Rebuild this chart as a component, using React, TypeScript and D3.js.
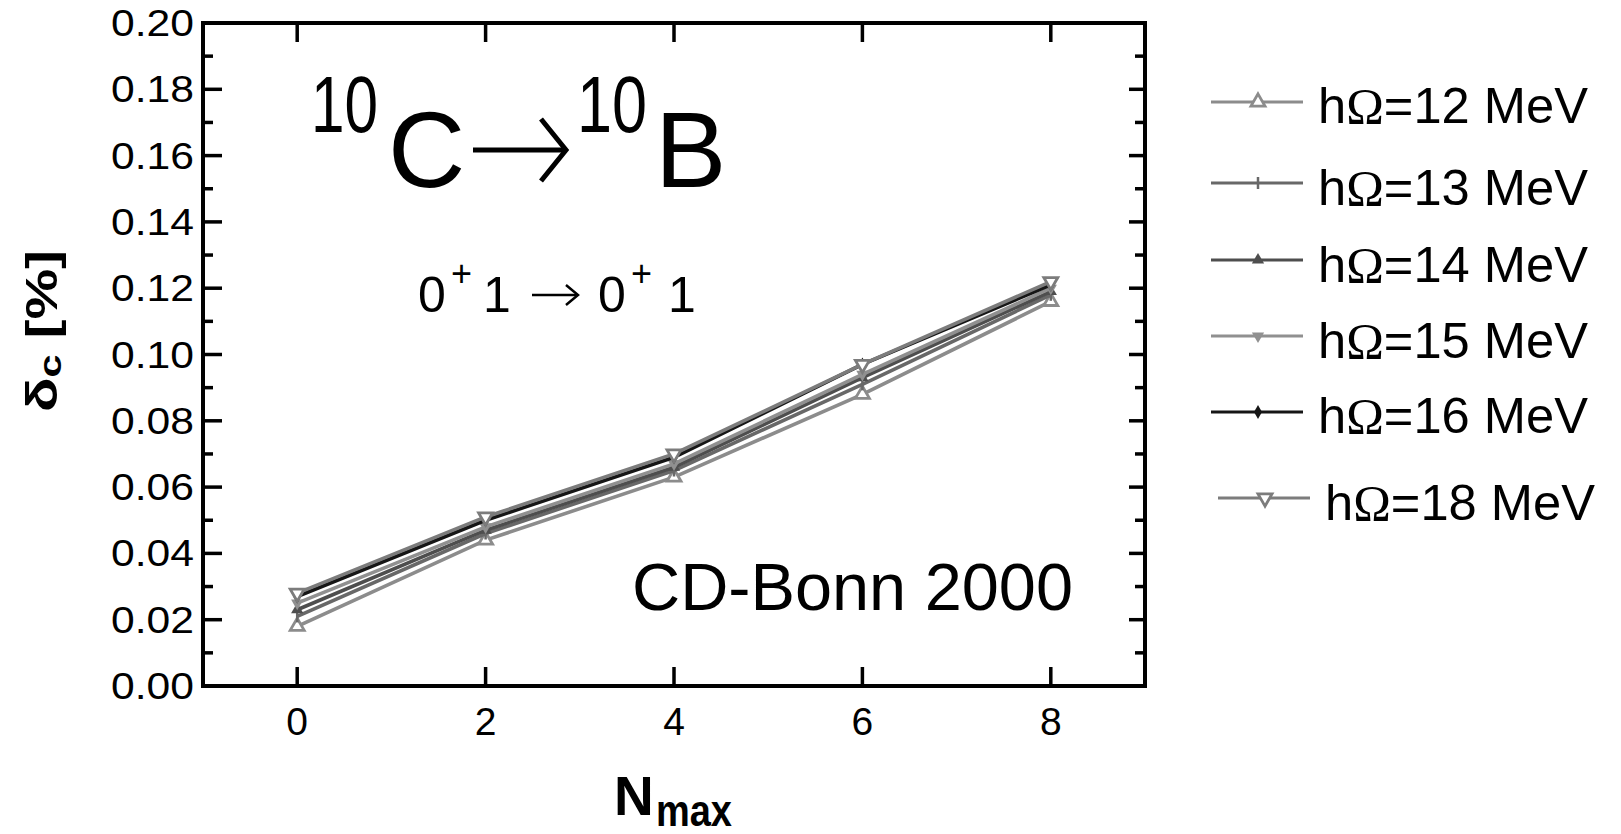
import React from 'react'
import * as d3 from 'd3'

const nmax = [0, 2, 4, 6, 8]
const series = ['12', '13', '14', '15', '16', '18']
const values = [
    [0.018, 0.044, 0.063, 0.088, 0.116],
    [0.021, 0.046, 0.065, 0.091, 0.118],
    [0.023, 0.047, 0.066, 0.093, 0.119],
    [0.025, 0.048, 0.067, 0.094, 0.120],
    [0.027, 0.050, 0.069, 0.097, 0.121],
    [0.028, 0.051, 0.070, 0.097, 0.122],
]
const colors = ['#8c8c8c', '#686868', '#4e4e4e', '#909090', '#161616', '#7c7c7c']
const markers = ['triUpOpen', 'tick', 'triUp', 'triDown', 'diamond', 'triDownOpen']
const yTicks = d3.range(0, 0.2001, 0.02)
const yMinor = d3.range(0.01, 0.2, 0.02)
const xTicks = [0, 2, 4, 6, 8]

const FONT = '"Liberation Sans", Arial, sans-serif'

const Marker = ({ kind, x, y, color }: { kind: string; x: number; y: number; color: string }) => {
    const tri = d3.symbol().type(d3.symbolTriangle)
    if (kind === 'triUpOpen' || kind === 'triDownOpen') {
        const rot = kind === 'triDownOpen' ? 180 : 0
        return <path d={tri.size(85)() || ''} transform={`translate(${x},${y}) rotate(${rot})`}
            fill="#fff" stroke={color} strokeWidth={2.8} />
    }
    if (kind === 'triUp' || kind === 'triDown') {
        const rot = kind === 'triDown' ? 180 : 0
        return <path d={tri.size(65)() || ''} transform={`translate(${x},${y}) rotate(${rot})`} fill={color} />
    }
    if (kind === 'diamond') {
        return <path d={d3.symbol().type(d3.symbolDiamond).size(55)() || ''} transform={`translate(${x},${y})`} fill={color} />
    }
    return <line x1={x} x2={x} y1={y - 6} y2={y + 6} stroke={color} strokeWidth={2.5} />
}

const App = () => {
    const left = 203, right = 1145, top = 23, bottom = 686
    const x = d3.scaleLinear().domain([-1, 9]).range([left, right])
    const y = d3.scaleLinear().domain([0, 0.2]).range([bottom, top])
    const line = d3.line<number>().x((d, i) => x(nmax[i])).y(d => y(d))

    const legendLineY = [102, 183, 260, 336, 412, 498]
    const legendTextY = [123, 205, 282, 358, 433, 520]

    return (
        <svg width={1621} height={834} style={{ position: 'absolute', left: 0, top: 0, background: '#fff' }}
            fontFamily={FONT}>
            {/* data */}
            {values.map((vals, si) => (
                <g key={`s${si}`}>
                    <path d={line(vals) || ''} fill="none" stroke={colors[si]} strokeWidth={3.6} />
                    {vals.map((v, i) => (
                        <Marker key={i} kind={markers[si]} x={x(nmax[i])} y={y(v)} color={colors[si]} />
                    ))}
                </g>
            ))}

            {/* frame */}
            <rect x={left} y={top} width={right - left} height={bottom - top} fill="none" stroke="#000" strokeWidth={4} />
            {yTicks.map(t => (
                <g key={`yt${t}`}>
                    <line x1={left} x2={left + 19} y1={y(t)} y2={y(t)} stroke="#000" strokeWidth={3.5} />
                    <line x1={right} x2={right - 16} y1={y(t)} y2={y(t)} stroke="#000" strokeWidth={3.5} />
                    <text x={194} y={y(t) + 13} textAnchor="end" fontSize={37} textLength={83}
                        lengthAdjust="spacingAndGlyphs">{t.toFixed(2)}</text>
                </g>
            ))}
            {yMinor.map(t => (
                <g key={`ym${t}`}>
                    <line x1={left} x2={left + 10} y1={y(t)} y2={y(t)} stroke="#000" strokeWidth={3.5} />
                    <line x1={right} x2={right - 10} y1={y(t)} y2={y(t)} stroke="#000" strokeWidth={3.5} />
                </g>
            ))}
            {xTicks.map(t => (
                <g key={`xt${t}`}>
                    <line x1={x(t)} x2={x(t)} y1={bottom} y2={bottom - 19} stroke="#000" strokeWidth={3.5} />
                    <line x1={x(t)} x2={x(t)} y1={top} y2={top + 19} stroke="#000" strokeWidth={3.5} />
                    <text x={x(t)} y={735} textAnchor="middle" fontSize={39}>{t}</text>
                </g>
            ))}

            {/* axis titles */}
            <text transform="translate(57,331) rotate(-90)" textAnchor="middle" fontSize={44} fontWeight="bold"
                textLength={162} lengthAdjust="spacingAndGlyphs">
                δ<tspan fontSize={32} dy={4}>c</tspan><tspan dy={-4}> [%]</tspan>
            </text>
            <text x={614} y={815} fontSize={55} fontWeight="bold">N</text>
            <text x={656} y={826} fontSize={44} fontWeight="bold" textLength={76} lengthAdjust="spacingAndGlyphs">max</text>

            {/* title */}
            <text x={311} y={132} fontSize={79} textLength={67} lengthAdjust="spacingAndGlyphs">10</text>
            <text x={388} y={187} fontSize={107}>C</text>
            <line x1={473} x2={564} y1={150} y2={150} stroke="#000" strokeWidth={5} />
            <polyline points="541,119 566,150 541,181" fill="none" stroke="#000" strokeWidth={5} />
            <text x={577} y={132} fontSize={79} textLength={70} lengthAdjust="spacingAndGlyphs">10</text>
            <text x={655} y={187} fontSize={107}>B</text>

            {/* transition */}
            <text x={418} y={312} fontSize={50}>0</text>
            <text x={451} y={286} fontSize={36}>+</text>
            <text x={483} y={312} fontSize={50}>1</text>
            <line x1={532} x2={576} y1={295} y2={295} stroke="#000" strokeWidth={2.5} />
            <polyline points="566,285 578,295 566,305" fill="none" stroke="#000" strokeWidth={2.5} />
            <text x={598} y={312} fontSize={50}>0</text>
            <text x={631} y={286} fontSize={36}>+</text>
            <text x={668} y={312} fontSize={50}>1</text>

            <text x={632} y={610} fontSize={67} textLength={441} lengthAdjust="spacingAndGlyphs">CD-Bonn 2000</text>

            {/* legend */}
            {series.map((s, i) => {
                const dx = i === 5 ? 7 : 0
                return (
                    <g key={`lg${s}`}>
                        <line x1={1211 + dx} x2={1303 + dx} y1={legendLineY[i]} y2={legendLineY[i]}
                            stroke={colors[i]} strokeWidth={3.2} />
                        <Marker kind={markers[i]} x={1258 + dx} y={legendLineY[i]} color={colors[i]} />
                        <text x={1318 + dx} y={legendTextY[i]} fontSize={50} textLength={270}
                            lengthAdjust="spacingAndGlyphs">
                            h<tspan fontFamily='"Liberation Serif", serif'>Ω</tspan>={s} MeV
                        </text>
                    </g>
                )
            })}
        </svg>
    )
}

export default App
